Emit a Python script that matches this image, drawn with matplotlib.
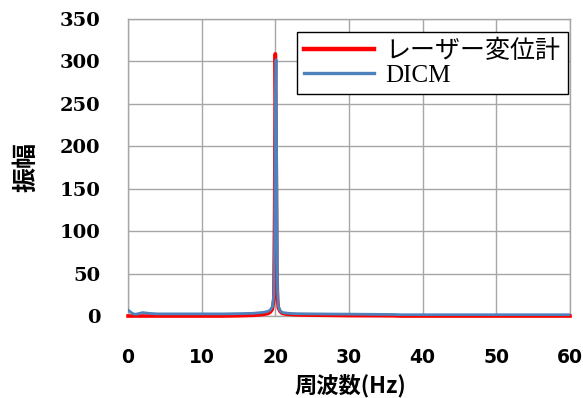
import matplotlib
matplotlib.use("Agg")
import matplotlib.pyplot as plt

freq = [0, 0.3, 0.6, 1, 1.5, 2, 2.5, 3, 4, 5, 7, 10, 13, 15, 17, 18, 18.5, 19, 19.3, 19.6, 19.8, 19.9, 20.0, 20.1, 20.2, 20.3, 20.4, 20.6, 20.8, 21, 21.5, 22, 23, 25, 28, 30, 33, 36, 37, 40, 45, 50, 55, 60]
laser = [0, 0, 0, 0, 0, 0, 0, 0, 0, 0, 0, 0, 0, 0.3, 0.8, 1.5, 2, 3, 4.5, 8, 20, 120, 309, 220, 60, 20, 10, 6, 4, 3, 2.2, 1.8, 1.3, 1.0, 0.7, 0.5, 0.4, 0.3, 0, 0, 0, 0, 0, 0]
dicm = [7, 5, 3, 2, 3, 4, 3.5, 3, 2.5, 2.5, 2.5, 2.5, 2.5, 2.8, 3.2, 4, 4.5, 5.5, 7, 11, 25, 90, 250, 302, 150, 30, 12, 7, 5, 4, 3.5, 3, 2.7, 2.5, 2.3, 2.2, 2, 1.8, 1.5, 1.5, 1.5, 1.5, 1.5, 1.5]

xticks = [0, 10, 20, 30, 40, 50, 60]
yticks = [0, 50, 100, 150, 200, 250, 300, 350]

W, H = 583, 398
fig = plt.figure(figsize=(W / 100, H / 100), dpi=100)
ax = fig.add_axes([128 / W, 1 - 316 / H, 442 / W, 297 / H])

ax.plot(freq, laser, color="#ff0000", lw=2.6, label="レーザー変位計", clip_on=False, zorder=3)
ax.plot(freq, dicm, color="#4f81bd", lw=2.0, label="DICM", zorder=4)

ax.set_xlim(0, 60)
ax.set_ylim(0, 350)
ax.set_xticks(xticks)
ax.set_yticks(yticks)
ax.grid(True, color="#a6a6a6", lw=1.0)
ax.set_axisbelow(True)
for s in ax.spines.values():
    s.set_color("#a6a6a6")
    s.set_linewidth(1.0)
ax.tick_params(axis="x", length=0, pad=23)
ax.tick_params(axis="y", length=0, pad=20)
for lab in ax.get_xticklabels():
    lab.set_fontfamily("DejaVu Sans")
    lab.set_fontweight("bold")
    lab.set_fontsize(13.5)
for lab in ax.get_yticklabels():
    lab.set_fontfamily("DejaVu Serif")
    lab.set_fontweight("bold")
    lab.set_fontsize(14)

cjk = ["Noto Sans CJK JP", "DejaVu Sans"]
fig.text(350 / W, 1 - 386 / H, "周波数(Hz)", fontsize=16, fontweight="bold",
         family=cjk, ha="center", va="center")
fig.text(27 / W, 1 - 167 / H, "振幅", fontsize=18, fontweight="bold",
         family=cjk, ha="center", va="center", rotation=90)

leg = ax.legend(loc="upper right", bbox_to_anchor=(568 / W, 1 - 32 / H),
                bbox_transform=fig.transFigure, fancybox=False,
                edgecolor="black", framealpha=1, handlelength=2.8,
                prop={"family": ["Liberation Serif", "Noto Sans CJK JP"], "size": 18},
                borderpad=0.3, labelspacing=0.05, handletextpad=0.45, borderaxespad=0)
leg.get_frame().set_linewidth(1.0)
for ln, w in zip(leg.get_lines(), [3.2, 2.4]):
    ln.set_linewidth(w)

fig.savefig("out.png", dpi=100)
